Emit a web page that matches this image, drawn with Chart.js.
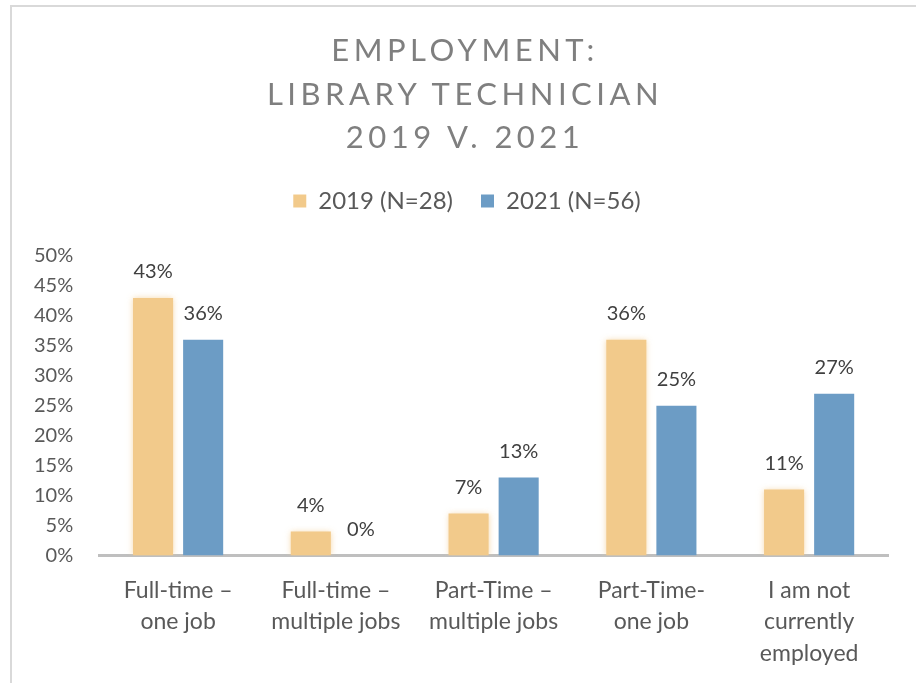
<!DOCTYPE html>
<html>
<head>
<meta charset="utf-8">
<script src="https://cdn.jsdelivr.net/npm/chart.js@4"></script>
<style>
  html, body { margin: 0; padding: 0; background: #fff; overflow: hidden; }
  #wrap { position: relative; width: 916px; height: 683px; }
  #frame {
    position: absolute; left: 10px; top: 5px; width: 1000px; height: 800px;
    border: 2px solid #d9d9d9; box-sizing: border-box;
  }
  #title {
    position: absolute; left: 0; top: 28px; width: 930px; text-align: center;
    font-family: "Lato", sans-serif; font-size: 31px; line-height: 43.5px;
    letter-spacing: 4.5px; color: #7f7f7f;
  }
  #chartBox { position: absolute; left: 0; top: 0; width: 916px; height: 683px; }
</style>
</head>
<body>
<div id="wrap">
  <div id="frame"></div>
  <div id="chartBox"><canvas id="empChart"></canvas></div>
  <div id="title">EMPLOYMENT:<br>LIBRARY TECHNICIAN<br>2019 V. 2021</div>
</div>

<script>
// ==============================
// DATA
// ==============================
const categories = [
  ["Full-time \u2013", "one job"],
  ["Full-time \u2013", "multiple jobs"],
  ["Part-Time \u2013", "multiple jobs"],
  ["Part-Time-", "one job"],
  ["I am not", "currently", "employed"],
];

const seriesNames = ["2019 (N=28)", "2021 (N=56)"];
const values2019 = [43, 4, 7, 36, 11];
const values2021 = [36, 0, 13, 25, 27];

const yMin = 0;
const yMax = 50;
const yStep = 5;

// ==============================
// STYLE
// ==============================
const ORANGE = "#f2ca8b";
const BLUE = "#6c9cc5";
const FONT = "'Lato', 'Open Sans', sans-serif";
const TEXT = "#595959";

// legend: extra room below it, and nudged right
const legendGap = {
  id: "legendGap",
  beforeInit(chart) {
    const origFit = chart.legend.fit;
    chart.legend.fit = function fit() {
      origFit.bind(chart.legend)();
      this.height += 33;
    };
  },
  afterLayout(chart) {
    chart.legend.left += 38;
  },
};

// soft glow on the 2019 bars
const barGlow = {
  id: "barGlow",
  beforeDatasetDraw(chart, args) {
    if (args.index !== 0) return;
    const ctx = chart.ctx;
    ctx.save();
    ctx.shadowColor = "rgba(242,202,139,0.7)";
    ctx.shadowBlur = 6;
  },
  afterDatasetDraw(chart, args) {
    if (args.index !== 0) return;
    chart.ctx.restore();
  },
};

// value labels above every bar
const valueLabels = {
  id: "valueLabels",
  afterDatasetsDraw(chart) {
    const ctx = chart.ctx;
    ctx.save();
    ctx.font = "20px " + FONT;
    ctx.fillStyle = "#404040";
    ctx.textAlign = "center";
    ctx.textBaseline = "middle";
    chart.data.datasets.forEach((ds, i) => {
      const meta = chart.getDatasetMeta(i);
      meta.data.forEach((bar, j) => {
        ctx.fillText(ds.data[j] + "%", bar.x, bar.y - 26);
      });
    });
    ctx.restore();
  },
};

// ==============================
// CHART
// ==============================
const ctx = document.getElementById("empChart").getContext("2d");

new Chart(ctx, {
  type: "bar",
  data: {
    labels: categories,
    datasets: [
      {
        label: seriesNames[0],
        data: values2019,
        backgroundColor: ORANGE,
        barPercentage: 0.8,
        categoryPercentage: 0.635,
      },
      {
        label: seriesNames[1],
        data: values2021,
        backgroundColor: BLUE,
        barPercentage: 0.8,
        categoryPercentage: 0.635,
      },
    ],
  },
  options: {
    responsive: true,
    maintainAspectRatio: false,
    animation: false,
    layout: {
      padding: { top: 161, left: 8, right: 28, bottom: -5 },
    },
    plugins: {
      legend: {
        display: true,
        position: "top",
        labels: {
          font: { family: FONT, size: 24 },
          color: TEXT,
          boxWidth: 13,
          boxHeight: 13,
          padding: 28,
        },
      },
      tooltip: { enabled: false },
    },
    scales: {
      x: {
        grid: { display: false, drawTicks: false },
        border: { display: true, color: "#bfbfbf", width: 3 },
        ticks: {
          font: { family: FONT, size: 23, lineHeight: 1.37 },
          color: TEXT,
          padding: 19,
          maxRotation: 0,
          autoSkip: false,
        },
      },
      y: {
        min: yMin,
        max: yMax,
        grid: { display: false, drawTicks: false },
        border: { display: false },
        ticks: {
          stepSize: yStep,
          font: { family: FONT, size: 20 },
          color: TEXT,
          padding: 26,
          callback: (v) => v + "%",
        },
      },
    },
  },
  plugins: [legendGap, barGlow, valueLabels],
});
</script>
</body>
</html>
